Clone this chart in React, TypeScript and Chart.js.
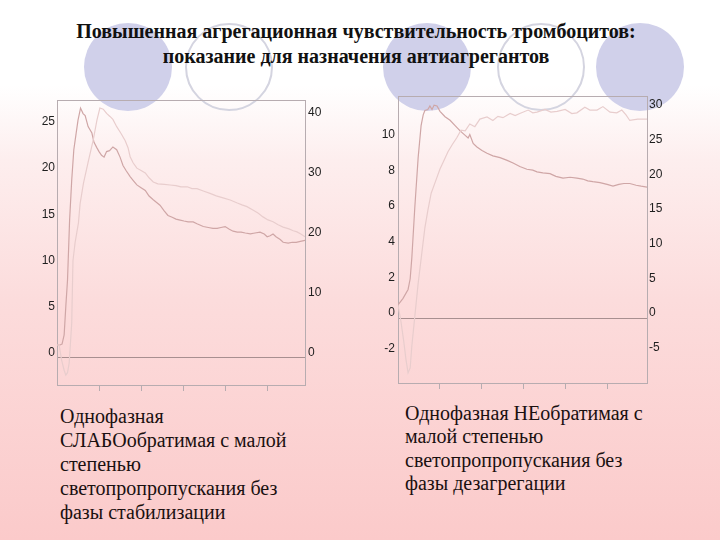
import React, { useEffect, useRef } from "react";
import { Chart, registerables } from "chart.js";

Chart.register(...registerables);

// ---------- Left chart (слабообратимая) ----------
const L_TIME_A = [0, 0.07, 0.12, 0.17, 0.21, 0.25, 0.3, 0.35, 0.4, 0.45, 0.5, 0.56, 0.62, 0.67, 0.74, 0.83, 0.88, 0.95, 1.0, 1.06, 1.12, 1.18, 1.25, 1.33, 1.42, 1.5, 1.57, 1.65, 1.74, 1.81, 1.9, 2.0, 2.1, 2.19, 2.29, 2.37, 2.45, 2.55, 2.64, 2.74, 2.83, 2.93, 3.02, 3.12, 3.24, 3.33, 3.48, 3.6, 3.71, 3.81, 3.9, 4.0, 4.1, 4.19, 4.29, 4.38, 4.48, 4.6, 4.71, 4.83, 4.93, 5.0, 5.07, 5.14, 5.21, 5.31, 5.38, 5.5, 5.6, 5.69, 5.79, 5.9];
const L_SERIES_A = [1.3, 1.3, 1.4, 2.4, 5.5, 8.3, 14.8, 19.1, 22.4, 24.0, 25.6, 26.9, 26.3, 26.1, 24.9, 24.2, 23.2, 22.6, 22.2, 21.8, 21.6, 22.2, 22.3, 22.7, 22.4, 21.6, 20.7, 20.1, 19.5, 19.1, 18.6, 18.3, 18.0, 17.4, 17.0, 16.7, 16.4, 15.8, 15.3, 15.1, 14.9, 14.8, 14.7, 14.6, 14.6, 14.4, 14.1, 14.0, 13.9, 13.9, 14.0, 14.1, 13.8, 13.6, 13.5, 13.5, 13.4, 13.3, 13.4, 13.5, 13.3, 13.0, 13.1, 13.3, 13.0, 12.7, 12.4, 12.3, 12.4, 12.4, 12.5, 12.6];
const L_TIME_B = [0, 0.05, 0.11, 0.17, 0.21, 0.25, 0.29, 0.35, 0.38, 0.43, 0.51, 0.55, 0.63, 0.75, 0.86, 0.95, 1.02, 1.1, 1.18, 1.26, 1.33, 1.42, 1.52, 1.62, 1.69, 1.74, 1.81, 1.9, 2.0, 2.1, 2.19, 2.29, 2.4, 2.55, 2.69, 2.83, 2.95, 3.1, 3.21, 3.33, 3.48, 3.64, 3.79, 3.93, 4.12, 4.29, 4.4, 4.52, 4.67, 4.79, 4.9, 5.02, 5.14, 5.26, 5.38, 5.52, 5.62, 5.71, 5.81, 5.9];
const L_SERIES_B = [2.0, 2.0, -0.5, -2.2, -3.0, -2.6, -1.0, 5.6, 16.0, 19.0, 22.3, 25.5, 28.9, 32.7, 36.0, 39.4, 41.4, 41.2, 40.5, 40.0, 39.5, 38.3, 37.2, 36.0, 34.8, 33.3, 32.3, 31.4, 31.0, 30.6, 29.8, 29.1, 28.8, 28.7, 28.6, 28.5, 28.3, 28.3, 28.0, 28.0, 27.6, 27.2, 26.8, 26.5, 26.1, 25.6, 25.3, 25.0, 24.4, 23.9, 23.3, 22.8, 22.5, 22.0, 21.6, 21.3, 21.0, 20.8, 20.4, 20.0];
const L_TICKS_LEFT = [0, 5, 10, 15, 20, 25];
const L_TICKS_RIGHT = [0, 10, 20, 30, 40];

// ---------- Right chart (необратимая) ----------
const R_TIME_A = [0, 0.12, 0.24, 0.29, 0.33, 0.4, 0.48, 0.55, 0.6, 0.64, 0.71, 0.76, 0.81, 0.86, 0.93, 1.0, 1.12, 1.24, 1.36, 1.48, 1.6, 1.67, 1.71, 1.79, 1.88, 2.0, 2.12, 2.26, 2.43, 2.6, 2.74, 2.9, 3.07, 3.21, 3.31, 3.45, 3.62, 3.76, 3.93, 4.1, 4.26, 4.4, 4.52, 4.64, 4.81, 4.98, 5.12, 5.26, 5.38, 5.52, 5.67, 5.79, 5.93];
const R_SERIES_A = [0.73, 1.1, 1.6, 2.2, 3.4, 6.2, 9.0, 10.8, 11.4, 11.65, 11.7, 11.9, 11.7, 11.95, 11.9, 11.6, 11.3, 11.1, 10.8, 10.5, 10.25, 10.1, 10.3, 9.8, 9.6, 9.4, 9.25, 9.1, 9.0, 8.85, 8.7, 8.5, 8.35, 8.3, 8.2, 8.15, 8.1, 7.95, 7.85, 7.9, 7.85, 7.8, 7.7, 7.65, 7.6, 7.5, 7.4, 7.5, 7.55, 7.55, 7.45, 7.4, 7.35];
const R_TIME_B = [0, 0.07, 0.14, 0.19, 0.24, 0.29, 0.33, 0.38, 0.43, 0.48, 0.57, 0.64, 0.71, 0.79, 0.88, 1.0, 1.1, 1.19, 1.29, 1.4, 1.5, 1.6, 1.71, 1.83, 1.95, 2.12, 2.26, 2.38, 2.5, 2.67, 2.79, 2.9, 3.1, 3.21, 3.31, 3.5, 3.64, 3.79, 3.98, 4.14, 4.26, 4.45, 4.57, 4.74, 4.88, 5.05, 5.21, 5.33, 5.43, 5.52, 5.71, 5.93];
const R_SERIES_B = [1.9, -0.5, -3.5, -6.0, -7.9, -7.2, -4.0, -1.0, 2.0, 5.0, 9.5, 13.0, 15.5, 18.0, 19.5, 21.5, 22.8, 24.0, 25.0, 26.0, 27.1, 27.0, 28.0, 27.6, 28.7, 29.0, 28.5, 29.1, 28.9, 29.5, 29.2, 29.5, 30.0, 29.6, 29.7, 30.1, 29.7, 29.8, 30.1, 29.5, 29.6, 30.4, 30.0, 30.0, 30.5, 29.7, 29.6, 30.0, 29.3, 28.5, 28.7, 28.7];
const R_TICKS_LEFT = [-2, 0, 2, 4, 6, 8, 10];
const R_TICKS_RIGHT = [-5, 0, 5, 10, 15, 20, 25, 30];

const X_TICKS = [1, 2, 3, 4, 5];

const DARK_LINE = "#cfa6a6";
const LIGHT_LINE = "#e8cdcd";
const FRAME_COLOR = "#b7acb0";
const ZERO_COLOR = "#a88f90";
const TICK_FONT = "'Liberation Sans Narrow', 'Liberation Sans', Arial, sans-serif";

const framePlugin = {
  id: "frame",
  beforeDatasetsDraw(chart: any) {
    const { ctx, chartArea, scales } = chart;
    const { left, right, top, bottom } = chartArea;
    ctx.save();
    ctx.lineWidth = 1;
    const y0 = Math.round(scales.y.getPixelForValue(0)) + 0.5;
    ctx.strokeStyle = ZERO_COLOR;
    ctx.beginPath();
    ctx.moveTo(left, y0);
    ctx.lineTo(right, y0);
    ctx.stroke();
    ctx.strokeStyle = FRAME_COLOR;
    ctx.strokeRect(Math.round(left) + 0.5, Math.round(top) + 0.5, Math.round(right - left), Math.round(bottom - top));
    ctx.restore();
  },
};

type Cfg = {
  tA: number[]; vA: number[]; tB: number[]; vB: number[];
  yMin: number; yMax: number; y1Min: number; y1Max: number;
  yTicks: number[]; y1Ticks: number[]; xMax: number;
  leftW: number; rightW: number; xH: number; labelOffset: number;
  padL: number; padR: number;
  left: number; top: number; width: number; height: number;
};

function pts(t: number[], v: number[]) {
  return t.map((x, i) => ({ x, y: v[i] }));
}

function TraceChart({ cfg }: { cfg: Cfg }) {
  const ref = useRef<HTMLCanvasElement | null>(null);
  useEffect(() => {
    if (!ref.current) return;
    const chart = new Chart(ref.current, {
      type: "line",
      data: {
        datasets: [
          {
            data: pts(cfg.tB, cfg.vB),
            yAxisID: "y1",
            borderColor: LIGHT_LINE,
            borderWidth: 1.2,
            pointRadius: 0,
            tension: 0,
          },
          {
            data: pts(cfg.tA, cfg.vA),
            yAxisID: "y",
            borderColor: DARK_LINE,
            borderWidth: 1.2,
            pointRadius: 0,
            tension: 0,
          },
        ],
      },
      options: {
        animation: false,
        responsive: false,
        events: [],
        layout: { padding: { top: 10, left: 0, right: 0, bottom: 0 } },
        plugins: { legend: { display: false }, tooltip: { enabled: false }, title: { display: false } },
        scales: {
          x: {
            type: "linear",
            min: 0,
            max: cfg.xMax,
            afterBuildTicks: (axis: any) => { axis.ticks = X_TICKS.map((v) => ({ value: v })); },
            afterFit: (s: any) => { s.height = cfg.xH; },
            ticks: { callback: () => "", autoSkip: false },
            grid: { drawOnChartArea: false, drawTicks: true, tickLength: 6, color: FRAME_COLOR },
            border: { display: false },
          },
          y: {
            type: "linear",
            position: "left",
            min: cfg.yMin,
            max: cfg.yMax,
            afterBuildTicks: (axis: any) => { axis.ticks = cfg.yTicks.map((v) => ({ value: v })); },
            afterFit: (s: any) => { s.width = cfg.leftW; },
            ticks: { autoSkip: false, padding: cfg.padL, labelOffset: cfg.labelOffset, color: "#1e1e1e", font: { family: TICK_FONT, size: 12 } },
            grid: { display: false, drawTicks: false },
            border: { display: false },
          },
          y1: {
            type: "linear",
            position: "right",
            min: cfg.y1Min,
            max: cfg.y1Max,
            afterBuildTicks: (axis: any) => { axis.ticks = cfg.y1Ticks.map((v) => ({ value: v })); },
            afterFit: (s: any) => { s.width = cfg.rightW; },
            ticks: { autoSkip: false, padding: cfg.padR, labelOffset: cfg.labelOffset, color: "#1e1e1e", font: { family: TICK_FONT, size: 12 } },
            grid: { display: false, drawTicks: false },
            border: { display: false },
          },
        },
      },
      plugins: [framePlugin],
    } as any);
    return () => chart.destroy();
  }, [cfg]);
  return (
    <canvas
      ref={ref}
      width={cfg.width}
      height={cfg.height}
      style={{ position: "absolute", left: cfg.left, top: cfg.top, width: cfg.width, height: cfg.height }}
    />
  );
}

const LEFT_CFG: Cfg = {
  tA: L_TIME_A, vA: L_SERIES_A, tB: L_TIME_B, vB: L_SERIES_B,
  yMin: -3.02, yMax: 27.75, y1Min: -4.65, y1Max: 42.7,
  yTicks: L_TICKS_LEFT, y1Ticks: L_TICKS_RIGHT, xMax: 5.9,
  leftW: 47, rightW: 35, xH: 15, labelOffset: -4, padL: 2, padR: 3,
  left: 10, top: 90, width: 330, height: 310,
};

const RIGHT_CFG: Cfg = {
  tA: R_TIME_A, vA: R_SERIES_A, tB: R_TIME_B, vB: R_SERIES_B,
  yMin: -3.65, yMax: 12.45, y1Min: -9.37, y1Max: 32.0,
  yTicks: R_TICKS_LEFT, y1Ticks: R_TICKS_RIGHT, xMax: 5.93,
  leftW: 48, rightW: 53, xH: 17, labelOffset: -5, padL: 3, padR: 2,
  left: 350, top: 86, width: 350, height: 314,
};

const CIRCLES = [
  { cx: 128, filled: true },
  { cx: 229, filled: false },
  { cx: 427, filled: true },
  { cx: 541, filled: false },
  { cx: 640, filled: true },
];

const SERIF = "'Liberation Serif', 'Times New Roman', Times, 'DejaVu Serif', serif";

export default function App() {
  return (
    <div
      style={{
        position: "fixed",
        left: 0,
        top: 0,
        width: 720,
        height: 540,
        overflow: "hidden",
        background: "linear-gradient(to bottom, #ffffff 0px, #ffffff 85px, #fdeeee 160px, #fcdcdc 300px, #fbcaca 540px)",
      }}
    >
      {CIRCLES.map((c, i) => (
        <div
          key={i}
          style={{
            position: "absolute",
            left: c.cx - 44,
            top: 67 - 44,
            width: 88,
            height: 88,
            borderRadius: "50%",
            boxSizing: "border-box",
            background: c.filled ? "#d0d0ea" : "transparent",
            border: c.filled ? "none" : "2.5px solid #d4d4e0",
          }}
        />
      ))}
      <TraceChart cfg={LEFT_CFG} />
      <TraceChart cfg={RIGHT_CFG} />
      <div
        style={{
          position: "absolute",
          left: 0,
          top: 19,
          width: 712,
          textAlign: "center",
          fontFamily: SERIF,
          fontWeight: "bold",
          fontSize: 20,
          lineHeight: "25px",
          color: "#111",
        }}
      >
        Повышенная агрегационная чувствительность тромбоцитов:
        <br />
        показание для назначения антиагрегантов
      </div>
      <div
        style={{
          position: "absolute",
          left: 60,
          top: 404,
          fontFamily: SERIF,
          fontSize: 20,
          lineHeight: "24px",
          color: "#1a1010",
          whiteSpace: "nowrap",
        }}
      >
        Однофазная
        <br />
        СЛАБОобратимая с малой
        <br />
        степенью
        <br />
        светопропропускания без
        <br />
        фазы стабилизации
      </div>
      <div
        style={{
          position: "absolute",
          left: 405,
          top: 402,
          fontFamily: SERIF,
          fontSize: 20,
          lineHeight: "23.4px",
          color: "#1a1010",
          whiteSpace: "nowrap",
        }}
      >
        Однофазная НЕобратимая с
        <br />
        малой степенью
        <br />
        светопропропускания без
        <br />
        фазы дезагрегации
      </div>
    </div>
  );
}
